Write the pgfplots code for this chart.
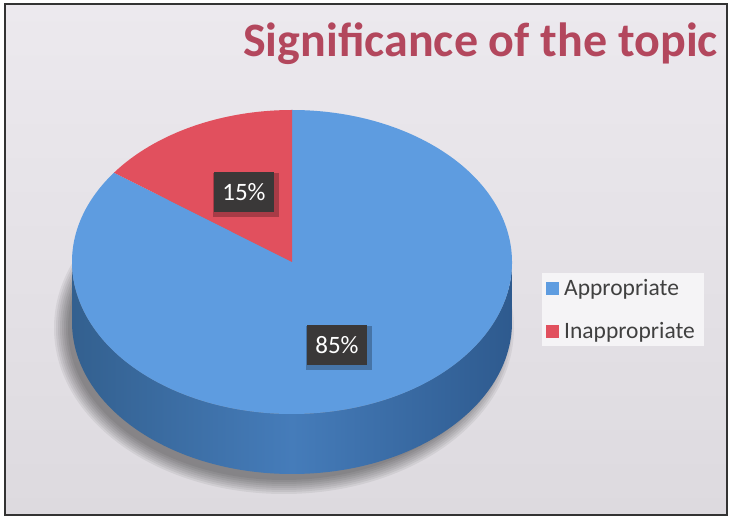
\documentclass[border=0pt]{standalone}
\usepackage{pgfplots}
\pgfplotsset{compat=1.18}
\usepackage{pgfplotstable}
\usepackage{fontspec}
\setmainfont{Carlito}
\definecolor{bgA}{HTML}{ECE9EE}
\definecolor{bgB}{HTML}{DDDADF}
\definecolor{titlec}{HTML}{B3475D}
\definecolor{blueTop}{HTML}{5E9CE0}
\definecolor{redTop}{HTML}{E1505E}
\definecolor{sideL}{HTML}{33608F}
\definecolor{sideM}{HTML}{457CBA}
\definecolor{sideR}{HTML}{2E5A8E}
\definecolor{lblbox}{HTML}{3A3838}
\definecolor{legtext}{HTML}{404040}
\pgfplotstableread{
label value
Appropriate 85
Inappropriate 15
}\piedata
\pgfplotstablegetelem{0}{value}\of\piedata \let\va\pgfplotsretval
\pgfplotstablegetelem{1}{value}\of\piedata \let\vb\pgfplotsretval
\pgfmathsetmacro\angb{90+\vb*3.6}
\def\cx{292}\def\cy{257}\def\rx{220}\def\ry{152}\def\dd{60}
\begin{document}
\begin{tikzpicture}
\begin{axis}[x=1pt,y=1pt,xmin=0,xmax=731,ymin=0,ymax=519,
  hide axis, clip=false, scale only axis,
  legend style={at={(axis cs:542,173)},anchor=south west,fill=bgA!50!white,draw=none,
    font=\fontsize{23.5}{26}\selectfont\color{legtext},row sep=21pt,inner sep=4pt,
    nodes={inner xsep=5pt}},
  legend cell align=left,
  legend image code/.code={\fill[#1,draw=none] (2pt,-7pt) rectangle (15pt,6pt);}]
\fill[white] (axis cs:0,0) rectangle (axis cs:731,519);
\shade[top color=bgA,bottom color=bgB] (axis cs:5,4) rectangle (axis cs:727,515);
\draw[black!80,line width=1.6pt] (axis cs:5,4) rectangle (axis cs:727,515);
% title
\node[anchor=base east,text=titlec,font=\fontsize{48}{52}\selectfont\bfseries,inner sep=0pt] at (axis cs:718,462) {Significance of the topic};
% shadow
\pgfplotsinvokeforeach{0,...,7}{
  \fill[black,opacity=0.06] (axis cs:{\cx-8},{\cy-\dd-6}) ellipse [x radius={\rx+10-2*#1}, y radius={\ry+14-2*#1}];
}
% side
\shade[left color=sideL,right color=sideR,middle color=sideM]
  (axis cs:{\cx-\rx},\cy) arc[start angle=180,end angle=360,x radius=\rx,y radius=\ry]
  -- ++(0,-\dd) arc[start angle=360,end angle=180,x radius=\rx,y radius=\ry] -- cycle;
% top faces
\fill[blueTop] (axis cs:\cx,\cy) -- ++(\angb:{\rx} and {\ry}) arc[start angle=\angb,end angle=450,x radius=\rx,y radius=\ry] -- cycle;
\fill[redTop] (axis cs:\cx,\cy) -- ++(90:{\rx} and {\ry}) arc[start angle=90,end angle=\angb,x radius=\rx,y radius=\ry] -- cycle;
% labels
\node[fill=black,opacity=0.25,minimum width=66pt,minimum height=44pt] at (axis cs:246,324) {};
\node[fill=lblbox,text=white,font=\fontsize{25}{28}\selectfont,minimum width=60pt,minimum height=40pt,inner sep=0pt] at (axis cs:244,327) {\vb\%};
\node[fill=black,opacity=0.25,minimum width=66pt,minimum height=44pt] at (axis cs:339,171) {};
\node[fill=lblbox,text=white,font=\fontsize{25}{28}\selectfont,minimum width=60pt,minimum height=40pt,inner sep=0pt] at (axis cs:337,174) {\va\%};
\addlegendimage{fill=blueTop}
\addlegendentry{Appropriate}
\addlegendimage{fill=redTop}
\addlegendentry{Inappropriate}
\end{axis}
\end{tikzpicture}
\end{document}
